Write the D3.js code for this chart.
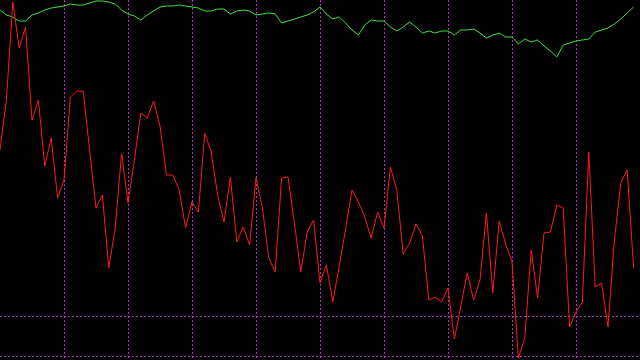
<!DOCTYPE html>
<html>
<head>
<meta charset="utf-8">
<script src="https://cdn.jsdelivr.net/npm/d3@7"></script>
<style>
  html, body { margin: 0; padding: 0; background: #000; }
  svg { display: block; }
</style>
</head>
<body>
<div id="chart"></div>
<script>
// chart size
var w = 640;
var h = 360;

// red series (lower line)
var redValues = [
  210, 260, 358, 312, 333, 240, 260, 194, 222, 162,
  180, 263, 269, 269, 210, 152, 165, 92, 132, 207,
  157, 200, 247, 242, 259, 234, 185, 185, 170, 132,
  158, 148, 227, 208, 165, 138, 183, 118, 133, 115,
  182, 152, 102, 88, 182, 183, 137, 88, 128, 140,
  77, 95, 58, 94, 131, 170, 158, 143, 122, 148,
  132, 193, 170, 106, 117, 136, 124, 60, 63, 58,
  72, 21, 54, 87, 60, 80, 147, 67, 139, 116,
  98, 2, 22, 110, 62, 127, 128, 155, 152, 33,
  48, 58, 208, 73, 77, 33, 120, 177, 190, 92
];

// green series (upper line)
var greenValues = [
  350, 345, 343, 339, 339, 345, 347, 350, 352, 353,
  354, 356, 355, 355, 357, 359, 359, 358, 356, 350,
  346, 344, 340, 345, 349, 353, 354, 354, 355, 354,
  353, 352, 349, 349, 351, 351, 346, 349, 350, 349,
  345, 346, 347, 346, 337, 339, 341, 343, 345, 348,
  353, 346, 341, 343, 337, 330, 325, 335, 340, 339,
  339, 333, 329, 333, 338, 333, 327, 329, 327, 329,
  329, 325, 330, 330, 331, 327, 322, 325, 327, 323,
  323, 316, 321, 318, 320, 314, 309, 303, 315, 317,
  319, 320, 321, 328, 330, 332, 336, 341, 347, 353
];

// grid positions
var xGrid = [10, 20, 30, 40, 50, 60, 70, 80, 90];
var yGrid = [44, 4];

var x = d3.scaleLinear().domain([0, 100]).range([0, w]);
var y = d3.scaleLinear().domain([0, 360]).range([h, 0]);

var svg = d3.select("#chart")
  .append("svg")
  .attr("width", w)
  .attr("height", h);

svg.append("rect")
  .attr("width", w)
  .attr("height", h)
  .attr("fill", "#000");

// dotted grid
svg.selectAll("line.vgrid")
  .data(xGrid)
  .enter()
  .append("line")
  .attr("class", "vgrid")
  .attr("x1", function(d) { return Math.round(x(d)) + 0.5; })
  .attr("x2", function(d) { return Math.round(x(d)) + 0.5; })
  .attr("y1", 0)
  .attr("y2", h)
  .attr("stroke", "#b030c8")
  .attr("stroke-dasharray", "2,2")
  .attr("shape-rendering", "crispEdges");

svg.selectAll("line.hgrid")
  .data(yGrid)
  .enter()
  .append("line")
  .attr("class", "hgrid")
  .attr("x1", 0)
  .attr("x2", w)
  .attr("y1", function(d) { return Math.round(y(d)) + 0.5; })
  .attr("y2", function(d) { return Math.round(y(d)) + 0.5; })
  .attr("stroke", "#b030c8")
  .attr("stroke-dasharray", "2,2")
  .attr("shape-rendering", "crispEdges");

var line = d3.line()
  .x(function(d, i) { return x(i); })
  .y(function(d) { return y(d); });

svg.append("path")
  .datum(greenValues)
  .attr("d", line)
  .attr("fill", "none")
  .attr("stroke", "#40e040")
  .attr("stroke-width", 1);

svg.append("path")
  .datum(redValues)
  .attr("d", line)
  .attr("fill", "none")
  .attr("stroke", "#ff1a1a")
  .attr("stroke-width", 1);
</script>
</body>
</html>
